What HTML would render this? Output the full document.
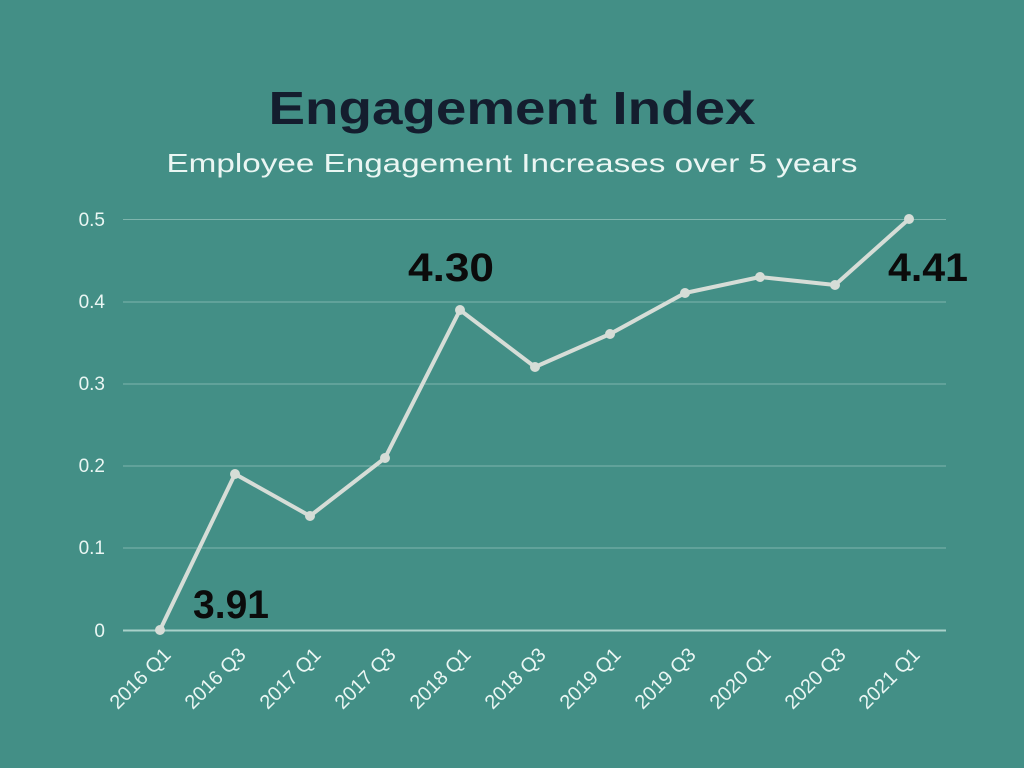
<!DOCTYPE html>
<html><head><meta charset="utf-8"><style>
html,body{margin:0;padding:0;background:#438f86;}
svg{display:block}
text{font-family:"Liberation Sans",sans-serif}
</style></head><body>
<svg width="1024" height="768" viewBox="0 0 1024 768">
<rect width="1024" height="768" fill="#438f86"/>
<text x="512" y="124" text-anchor="middle" font-size="46" font-weight="bold" fill="#141d2e" textLength="487" lengthAdjust="spacingAndGlyphs">Engagement Index</text>
<text x="512" y="172" text-anchor="middle" font-size="26" fill="#eaf6f3" textLength="691" lengthAdjust="spacingAndGlyphs">Employee Engagement Increases over 5 years</text>
<g stroke="#7fb5ad" stroke-width="1">
<line x1="123" y1="219.5" x2="946" y2="219.5"/>
<line x1="123" y1="302" x2="946" y2="302"/>
<line x1="123" y1="384" x2="946" y2="384"/>
<line x1="123" y1="466" x2="946" y2="466"/>
<line x1="123" y1="548" x2="946" y2="548"/>
<line x1="123" y1="630.5" x2="946" y2="630.5" stroke="#a9d1ca" stroke-width="2"/>
</g>
<g fill="#eaf6f3" font-size="19" text-anchor="end">
<text x="105" y="226">0.5</text>
<text x="105" y="308">0.4</text>
<text x="105" y="390">0.3</text>
<text x="105" y="472">0.2</text>
<text x="105" y="554">0.1</text>
<text x="105" y="637">0</text>
</g>
<polyline fill="none" stroke="#d6ddd7" stroke-width="4" stroke-linejoin="round" points="160,630 235,474 310,516 385,458 460,310 535,367 610,334 685,293 760,277 835,285 909,219"/>
<g fill="#d6ddd7">
<circle cx="160" cy="630" r="5"/><circle cx="235" cy="474" r="5"/><circle cx="310" cy="516" r="5"/><circle cx="385" cy="458" r="5"/><circle cx="460" cy="310" r="5"/><circle cx="535" cy="367" r="5"/><circle cx="610" cy="334" r="5"/><circle cx="685" cy="293" r="5"/><circle cx="760" cy="277" r="5"/><circle cx="835" cy="285" r="5"/><circle cx="909" cy="219" r="5"/>
</g>
<g font-size="40" font-weight="bold" fill="#0b0b0b">
<text x="193" y="618" textLength="76" lengthAdjust="spacingAndGlyphs">3.91</text>
<text x="408" y="281" textLength="86" lengthAdjust="spacingAndGlyphs">4.30</text>
<text x="888" y="281" textLength="80" lengthAdjust="spacingAndGlyphs">4.41</text>
</g>
<g fill="#eaf6f3" font-size="20" text-anchor="end">
<text transform="translate(172,656) rotate(-45)">2016 Q1</text>
<text transform="translate(247,656) rotate(-45)">2016 Q3</text>
<text transform="translate(322,656) rotate(-45)">2017 Q1</text>
<text transform="translate(397,656) rotate(-45)">2017 Q3</text>
<text transform="translate(472,656) rotate(-45)">2018 Q1</text>
<text transform="translate(547,656) rotate(-45)">2018 Q3</text>
<text transform="translate(622,656) rotate(-45)">2019 Q1</text>
<text transform="translate(697,656) rotate(-45)">2019 Q3</text>
<text transform="translate(772,656) rotate(-45)">2020 Q1</text>
<text transform="translate(847,656) rotate(-45)">2020 Q3</text>
<text transform="translate(921,656) rotate(-45)">2021 Q1</text>
</g>
</svg>
</body></html>
